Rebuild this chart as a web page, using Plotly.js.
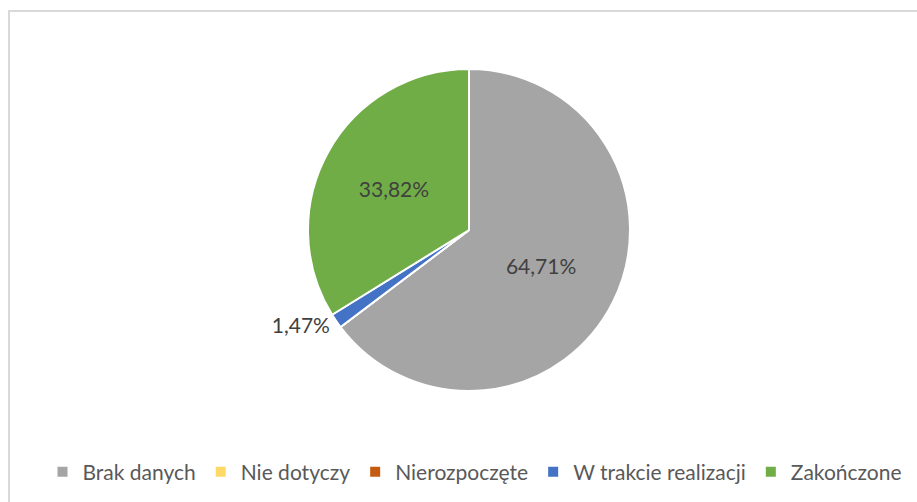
<!DOCTYPE html>
<html>
<head>
<meta charset="utf-8">
<script src="https://cdn.plot.ly/plotly-3.0.1.min.js"></script>
<style>
html,body{margin:0;padding:0;background:#fff;}
#chart{width:917px;height:502px;}
</style>
</head>
<body>
<div id="chart"></div>
<script>
// Data (counts read from the percentages)
const categories = ["Brak danych", "Nie dotyczy", "Nierozpoczęte", "W trakcie realizacji", "Zakończone"];
const counts = [44, 0, 0, 1, 23];
const sliceColors = ["#A5A5A5", "#FFD966", "#C55A11", "#4472C4", "#70AD47"];
const labelPositions = ["inside", "inside", "inside", "outside", "inside"];

const total = counts.reduce((a, b) => a + b, 0);
const pctText = counts.map(v => v > 0 ? (v / total * 100).toFixed(2).replace(".", ",") + "%" : "");

const W = 917, H = 502;
const cx = 469, cy = 230, r = 161;
const FONT = "Lato, 'Open Sans', sans-serif";
const FS = 21;

const trace = {
  type: "pie",
  labels: categories,
  values: counts,
  text: pctText,
  textinfo: "text",
  textposition: labelPositions,
  insidetextorientation: "horizontal",
  sort: false,
  direction: "clockwise",
  rotation: 0,
  marker: {colors: sliceColors, line: {color: "#FFFFFF", width: 2}},
  textfont: {family: FONT, size: FS, color: "#404040"},
  insidetextfont: {family: FONT, size: FS, color: "#404040"},
  outsidetextfont: {family: FONT, size: FS, color: "#404040"},
  domain: {x: [(cx - r) / W, (cx + r) / W], y: [1 - (cy + r) / H, 1 - (cy - r) / H]},
  hoverinfo: "none"
};

const layout = {
  width: W, height: H,
  margin: {l: 0, r: 0, t: 0, b: 0},
  paper_bgcolor: "#FFFFFF",
  showlegend: true,
  legend: {
    orientation: "h",
    x: 0.518, xanchor: "center",
    y: 1 - 472 / H, yanchor: "middle",
    font: {family: FONT, size: FS, color: "#595959"},
    traceorder: "normal"
  },
  shapes: [{
    type: "rect", xref: "paper", yref: "paper",
    x0: 9 / W, x1: 1.05, y0: -0.05, y1: 1 - 11 / H,
    line: {color: "#D9D9D9", width: 2}, fillcolor: "rgba(0,0,0,0)", layer: "below"
  }]
};

Plotly.newPlot("chart", [trace], layout, {displayModeBar: false, staticPlot: true});
</script>
</body>
</html>
